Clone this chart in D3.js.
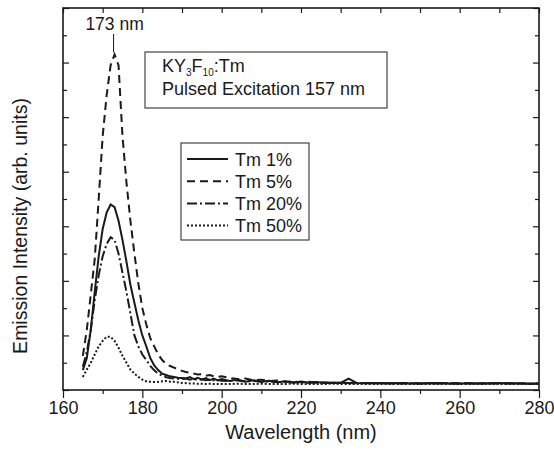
<!DOCTYPE html>
<html><head><meta charset="utf-8">
<script src="https://cdn.jsdelivr.net/npm/d3@7/dist/d3.min.js"></script>
<style>
body{margin:0;background:#fff}
svg{display:block;font-family:"Liberation Sans",Arial,sans-serif}
</style>
</head><body>
<svg id="chart" width="554" height="451"></svg>
<script>
// ---- data ----
const wavelength = [165,166,167,168,169,170,171,172,173,174,175,176,177,178,179,180,181,182,183,184,185,
  186,187,188,189,190,191,192,193,194,195,196,197,198,199,200,
  202,204,206,208,210,212,214,216,218,220,222,224,226,228,230,232,234,236,238,240,
  242,244,246,248,250,252,254,256,258,260,262,264,266,268,270,272,274,276,278,280];

const tm1 = [0.73,1.17,2.2,3.6,4.9,5.9,6.5,6.8,6.7,6.2,5.5,4.7,3.85,3.2,2.55,2.0,1.6,1.17,0.9,0.73,0.6,
  0.55,0.5,0.48,0.45,0.44,0.42,0.47,0.4,0.45,0.38,0.44,0.36,0.42,0.35,0.4,
  0.33,0.38,0.3,0.36,0.3,0.34,0.28,0.32,0.27,0.31,0.27,0.29,0.26,0.27,0.26,0.42,0.26,0.25,0.26,0.25,
  0.25,0.26,0.24,0.25,0.24,0.25,0.26,0.24,0.25,0.24,0.25,0.24,0.25,0.24,0.26,0.24,0.25,0.24,0.23,0.24];

const tm5 = [1.25,2.2,3.5,4.8,7.0,9.3,10.8,11.9,12.3,11.9,9.3,7.6,6.2,5.0,3.9,3.0,2.4,1.9,1.6,1.3,1.1,
  0.95,0.88,0.82,0.76,0.7,0.66,0.63,0.6,0.57,0.58,0.52,0.55,0.5,0.48,0.5,
  0.44,0.4,0.42,0.36,0.38,0.33,0.35,0.3,0.32,0.28,0.3,0.27,0.28,0.26,0.27,0.26,0.25,0.26,0.25,0.26,
  0.25,0.24,0.26,0.25,0.24,0.25,0.24,0.26,0.25,0.24,0.25,0.24,0.25,0.26,0.24,0.25,0.24,0.25,0.23,0.24];

const tm20 = [0.85,1.4,2.2,3.3,4.2,4.9,5.35,5.6,5.5,5.0,4.3,3.6,2.8,2.0,1.6,1.3,1.1,0.88,0.72,0.6,0.53,
  0.47,0.44,0.42,0.41,0.4,0.42,0.38,0.4,0.37,0.39,0.36,0.38,0.35,0.37,0.34,
  0.33,0.35,0.31,0.33,0.3,0.31,0.29,0.3,0.28,0.29,0.27,0.28,0.26,0.27,0.26,0.26,0.25,0.26,0.25,0.25,
  0.25,0.24,0.25,0.25,0.24,0.25,0.24,0.25,0.24,0.24,0.25,0.24,0.24,0.25,0.24,0.25,0.24,0.24,0.23,0.24];

const tm50 = [0.48,0.75,1.0,1.3,1.6,1.8,1.95,1.95,1.8,1.55,1.25,1.0,0.75,0.6,0.48,0.38,0.32,0.3,0.29,0.3,0.32,
  0.33,0.3,0.3,0.28,0.26,0.25,0.24,0.24,0.23,0.23,0.22,0.23,0.22,0.22,0.22,
  0.22,0.23,0.22,0.22,0.23,0.22,0.22,0.22,0.23,0.22,0.22,0.22,0.22,0.23,0.22,0.22,0.22,0.22,0.22,0.22,
  0.22,0.22,0.22,0.22,0.22,0.22,0.22,0.22,0.22,0.22,0.22,0.22,0.22,0.22,0.22,0.22,0.22,0.22,0.22,0.22];

const seriesNames = ["Tm 1%","Tm 5%","Tm 20%","Tm 50%"];
const seriesValues = [tm1, tm5, tm20, tm50];
const xTickLabels = [160,180,200,220,240,260,280];
const peakLabel = "173 nm";
const peakWavelength = 173;

// ---- styles ----
const dashes = [null, "8,5", "10,3,2,3", "2,2"];
const ink = "#1a1a1a";

const svg = d3.select("#chart");
const m = {left:63, right:539, top:8, bottom:390};
const x = d3.scaleLinear().domain([160,280]).range([m.left, m.right]);
const y = d3.scaleLinear().domain([0,14]).range([m.bottom, m.top]);

const plot = svg.append("g");
const line = d3.line().x((d,i)=>x(wavelength[i])).y(d=>y(d));

seriesValues.forEach((vals,k)=>{
  plot.append("path").datum(vals).attr("d", line)
    .attr("fill","none").attr("stroke",ink).attr("stroke-width",2)
    .attr("stroke-dasharray", dashes[k]);
});

// axes
const minorX = d3.range(160,281,10);
const minorY = d3.range(0,15,1);

const gB = svg.append("g").attr("transform",`translate(0,${m.bottom})`);
gB.call(d3.axisBottom(x).tickValues(minorX).tickSize(4).tickFormat(""));
gB.call(g=>g.selectAll(".tick").filter(d=>d%20===0).select("line").attr("y2",8));
gB.selectAll(".tick").filter(d=>xTickLabels.includes(d)).append("text")
  .attr("y",24).attr("text-anchor","middle").attr("fill",ink)
  .style("font-size","18px").text(d=>d);
gB.select(".domain").remove();

const gT = svg.append("g").attr("transform",`translate(0,${m.top})`);
gT.call(d3.axisBottom(x).tickValues(minorX).tickSize(5).tickFormat(""));
gT.select(".domain").remove();

const gL = svg.append("g").attr("transform",`translate(${m.left},0)`);
gL.call(d3.axisRight(y).tickValues(minorY).tickSize(4).tickFormat(""));
gL.call(g=>g.selectAll(".tick").filter(d=>d%2===0).select("line").attr("x2",6));
gL.select(".domain").remove();

const gR = svg.append("g").attr("transform",`translate(${m.right},0)`);
gR.call(d3.axisLeft(y).tickValues(minorY).tickSize(4).tickFormat(""));
gR.call(g=>g.selectAll(".tick").filter(d=>d%2===0).select("line").attr("x2",-6));
gR.select(".domain").remove();

svg.selectAll(".tick line").attr("stroke",ink).attr("stroke-width",1.2);

svg.append("rect").attr("x",m.left).attr("y",m.top)
  .attr("width",m.right-m.left).attr("height",m.bottom-m.top)
  .attr("fill","none").attr("stroke",ink).attr("stroke-width",1.6);

// axis titles
svg.append("text").attr("x",(m.left+m.right)/2).attr("y",439)
  .attr("text-anchor","middle").attr("fill",ink).style("font-size","20px")
  .text("Wavelength (nm)");
svg.append("text").attr("transform",`translate(27,226) rotate(-90)`)
  .attr("text-anchor","middle").attr("fill",ink).style("font-size","19.5px")
  .text("Emission Intensity (arb. units)");

// peak annotation
svg.append("text").attr("x",x(peakWavelength)).attr("y",30)
  .attr("text-anchor","middle").attr("fill",ink).style("font-size","17.5px").text(peakLabel);
svg.append("line").attr("x1",x(peakWavelength)-1).attr("x2",x(peakWavelength)-1)
  .attr("y1",34).attr("y2",y(12.3)-2).attr("stroke",ink).attr("stroke-width",1);

// info box
svg.append("rect").attr("x",145).attr("y",52).attr("width",242).attr("height",56)
  .attr("fill","#fff").attr("stroke","#444").attr("stroke-width",1.2);
const t1 = svg.append("text").attr("x",162).attr("y",72).attr("fill",ink).style("font-size","18px");
t1.append("tspan").text("KY");
t1.append("tspan").attr("dy",4).style("font-size","10px").text("3");
t1.append("tspan").attr("dy",-4).text("F");
t1.append("tspan").attr("dy",4).style("font-size","10px").text("10");
t1.append("tspan").attr("dy",-4).text(":Tm");
svg.append("text").attr("x",162).attr("y",95).attr("fill",ink).style("font-size","18px")
  .text("Pulsed Excitation 157 nm");

// legend
const lg = svg.append("g");
lg.append("rect").attr("x",181).attr("y",143).attr("width",128).attr("height",97)
  .attr("fill","#fff").attr("stroke","#444").attr("stroke-width",1.2);
seriesNames.forEach((nm,k)=>{
  const yy = 159 + k*22.2;
  lg.append("line").attr("x1",187).attr("x2",228).attr("y1",yy).attr("y2",yy)
    .attr("stroke",ink).attr("stroke-width",2).attr("stroke-dasharray",dashes[k]);
  lg.append("text").attr("x",235).attr("y",yy+6.5).attr("fill",ink)
    .style("font-size","18px").text(nm);
});
</script>
</body></html>
